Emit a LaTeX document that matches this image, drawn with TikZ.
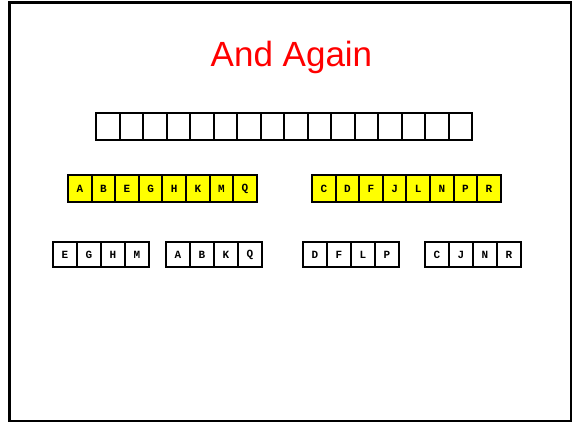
\documentclass[tikz,border=0pt]{standalone}
\usepackage{fontspec}
\setmainfont{Liberation Sans}
\newfontfamily\cellfont{Liberation Mono}
\usetikzlibrary{positioning}
\definecolor{ttl}{HTML}{FF0000}
\definecolor{hl}{HTML}{FFFF00}
\tikzset{
  cell/.style={draw=black,line width=2pt,outer sep=0pt,inner sep=0pt,fill=white,
    minimum width=23.5pt,minimum height=27pt,font=\cellfont\bfseries\fontsize{11}{11}\selectfont},
  ycell/.style={cell,fill=hl},
  scell/.style={cell,minimum width=24pt,minimum height=25pt},
  frame/.style={draw=black,line width=2.5pt},
}
\begin{document}
\begin{tikzpicture}[x=1pt,y=-1pt]
\useasboundingbox (0,0) rectangle (578,423);
\draw[frame] (9.5,2.5) rectangle (571,421);
\node[text=ttl,font=\fontsize{35}{35}\selectfont,anchor=base] (title) at (291.5,66) {And Again};
% empty row
\foreach \i in {1,...,16} \node[cell] (e\i) at ({96+(\i-0.5)*23.5},126.5) {};
% yellow halves
\foreach \l [count=\i] in {A,B,E,G,H,K,M,Q} \node[ycell] (l\i) at ({68+(\i-0.5)*23.6},188.5) {\l};
\foreach \l [count=\i] in {C,D,F,J,L,N,P,R} \node[ycell] (r\i) at ({312+(\i-0.5)*23.6},188.5) {\l};
% quarters
\foreach \l [count=\i] in {E,G,H,M} \node[scell] (qa\i) at ({53+(\i-0.5)*24},254.5) {\l};
\foreach \l [count=\i] in {A,B,K,Q} \node[scell] (qb\i) at ({166+(\i-0.5)*24},254.5) {\l};
\foreach \l [count=\i] in {D,F,L,P} \node[scell] (qc\i) at ({303+(\i-0.5)*24},254.5) {\l};
\foreach \l [count=\i] in {C,J,N,R} \node[scell] (qd\i) at ({425+(\i-0.5)*24},254.5) {\l};
\end{tikzpicture}
\end{document}
